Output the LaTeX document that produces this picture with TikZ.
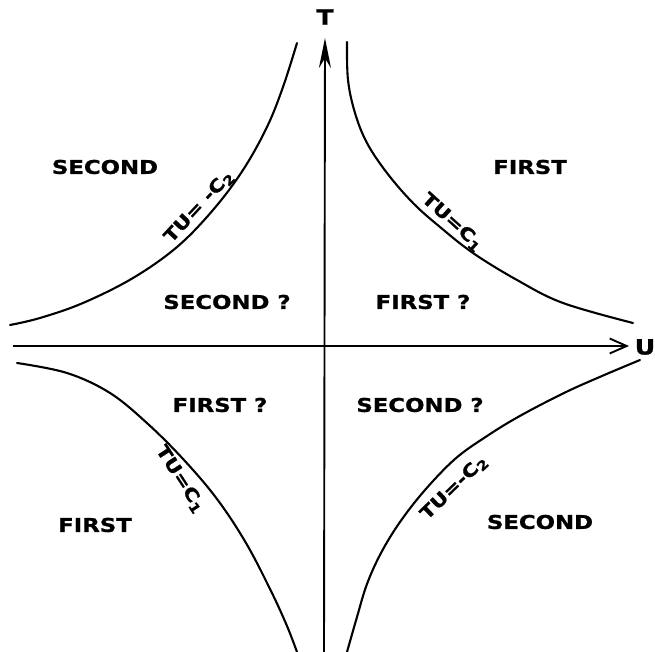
\documentclass[tikz,border=0pt]{standalone}
\usepackage{fontspec}
\newfontfamily\lett{DejaVu Sans}[FakeStretch=1.2, BoldFeatures={FakeBold=1}]
\usetikzlibrary{arrows.meta}
\begin{document}
\begin{tikzpicture}[x=1pt,y=1pt,
  lbl/.style={font=\lett\bfseries\fontsize{19}{21}\selectfont, inner sep=0pt},
  clbl/.style={font=\lett\bfseries\fontsize{17.5}{19}\selectfont, inner sep=0pt},
  curve/.style={line width=2.1pt, line cap=round},
  axis/.style={line width=1.9pt}]
\useasboundingbox (-324,-306) rectangle (331,346);
% axes
\coordinate (tb) at (0,-306);
\coordinate (tt) at (1,308);
\coordinate (ul) at (-311,0);
\coordinate (ur) at (305,0);
\draw[axis, -{Stealth[length=30pt,width=12pt]}] (tb) -- (tt);
\draw[axis, -{Straight Barb[length=17pt,width=15pt]}] (ul) -- (ur);
\node[lbl, font=\lett\bfseries\fontsize{21}{23}\selectfont] (T) at (1,329) {T};
\node[lbl, font=\lett\bfseries\fontsize{21}{23}\selectfont] (U) at (321,-1) {U};
% hyperbolas
\draw[curve] plot[smooth, tension=0.6] coordinates {(23,304) (24,266) (31,233) (43,203) (63,173) (89,143) (116,119) (149,93) (193,66) (239,43) (309,23)};
\draw[curve] plot[smooth, tension=0.6] coordinates {(-27,303) (-41,259) (-57,219) (-81,176) (-111,136) (-147,99) (-191,68) (-241,43) (-284,28) (-314,21)};
\draw[curve] plot[smooth, tension=0.6] coordinates {(-307,-17) (-257,-27) (-214,-47) (-176,-78) (-140,-114) (-107,-153) (-78,-197) (-53,-245) (-37,-280) (-27,-306)};
\draw[curve] plot[smooth, tension=0.6] coordinates {(23,-306) (33,-271) (43,-238) (57,-207) (76,-176) (101,-144) (131,-113) (160,-92) (194,-71) (240,-47) (278,-30) (316,-14)};
% region labels
\node[lbl] (s1) at (-219,179) {SECOND};
\node[lbl] (f1) at (206,179) {FIRST};
\node[lbl] (s2) at (-97,44) {SECOND ?};
\node[lbl] (f2) at (99,44) {FIRST ?};
\node[lbl] (f3) at (-104,-59) {FIRST ?};
\node[lbl] (s3) at (96,-59) {SECOND ?};
\node[lbl] (f4) at (-229,-179) {FIRST};
\node[lbl] (s4) at (216,-176) {SECOND};
% curve labels
\node[clbl, rotate=-42] (c1) at (128,124) {TU=C\raisebox{-0.35ex}{\fontsize{13}{14}\selectfont 1}};
\node[clbl, rotate=47] (c2) at (-125,139) {TU= -C\raisebox{-0.35ex}{\fontsize{13}{14}\selectfont 2}};
\node[clbl, rotate=-57] (c3) at (-144,-133) {TU=C\raisebox{-0.35ex}{\fontsize{13}{14}\selectfont 1}};
\node[clbl, rotate=44] (c4) at (130,-142) {TU=-C\raisebox{-0.35ex}{\fontsize{13}{14}\selectfont 2}};
\end{tikzpicture}
\end{document}
